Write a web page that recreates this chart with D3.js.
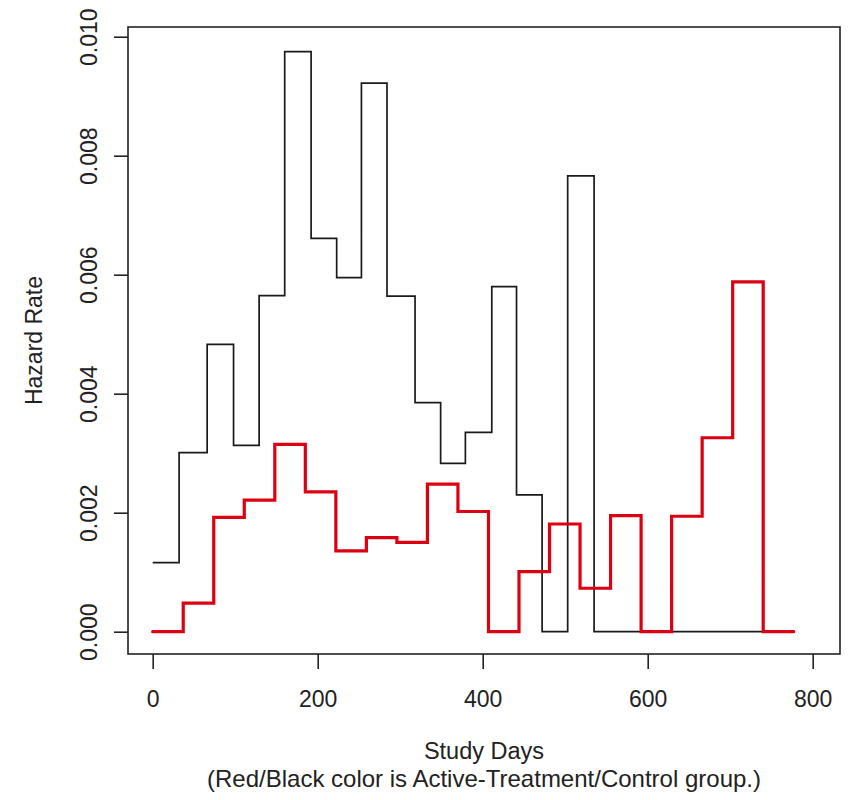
<!DOCTYPE html>
<html>
<head>
<meta charset="utf-8">
<script src="https://cdn.jsdelivr.net/npm/d3@7"></script>
<style>
    body { margin: 0; background: white; }
    text { font-family: 'Liberation Sans', Arial, sans-serif; fill: #222; }
</style>
</head>
<body>
<div id="chart"></div>
<script>
    // control group (black), bins about 31.5 days wide
    var controlEdges = [0, 32, 66, 98, 129, 160, 192, 223, 253, 284, 318, 349, 379, 411, 441, 472, 503, 535, 777];
    var controlRate = [0.00116, 0.00301, 0.00483, 0.00313, 0.00565, 0.00975, 0.00661, 0.00595, 0.00922,
        0.00564, 0.00385, 0.00283, 0.00335, 0.00580, 0.00230, 0.0, 0.00766, 0.0];

    // active treatment (red), 37 day bins
    var activeEdges = [0, 37, 74, 111, 148, 185, 222, 259, 296, 333, 370, 407, 444, 481, 518, 555, 592, 629, 666, 703, 740, 777];
    var activeRate = [0.0, 0.00048, 0.00192, 0.00221, 0.00315, 0.00235, 0.00136, 0.00158, 0.00150, 0.00248,
        0.00202, 0.0, 0.00101, 0.00181, 0.00073, 0.00195, 0.0, 0.00194, 0.00326, 0.00588, 0.0];

    var xTicks = [0, 200, 400, 600, 800];
    var yTicks = [0, 0.002, 0.004, 0.006, 0.008, 0.010];

    var width = 850, height = 800;
    var box = { left: 128, top: 27, right: 840, bottom: 654 };

    var svg = d3.select("#chart").append("svg")
        .attr("width", width)
        .attr("height", height);

    svg.append("rect").attr("width", width).attr("height", height).attr("fill", "white");

    var x = d3.scaleLinear().domain([0, 800]).range([152.7, 812.7]);
    var y = d3.scaleLinear().domain([0, 0.010]).range([631.7, 36.7]);

    function steps(edges, rates) {
        var pts = rates.map(function (r, i) { return [edges[i], r]; });
        pts.push([edges[edges.length - 1], rates[rates.length - 1]]);
        return pts;
    }

    var line = d3.line()
        .x(function (d) { return x(d[0]); })
        .y(function (d) { return y(d[1]); })
        .curve(d3.curveStepAfter);

    svg.append("path")
        .datum(steps(controlEdges, controlRate))
        .attr("d", line)
        .attr("fill", "none")
        .attr("stroke", "#1a1a1a")
        .attr("stroke-width", 1.7);

    svg.append("path")
        .datum(steps(activeEdges, activeRate))
        .attr("d", line)
        .attr("fill", "none")
        .attr("stroke", "#dd0010")
        .attr("stroke-width", 3.2)
        .attr("stroke-linecap", "round");

    // box
    svg.append("rect")
        .attr("x", box.left).attr("y", box.top)
        .attr("width", box.right - box.left).attr("height", box.bottom - box.top)
        .attr("fill", "none").attr("stroke", "#222").attr("stroke-width", 1.6);

    // x axis
    var xAxis = svg.append("g")
        .attr("transform", "translate(0," + box.bottom + ")")
        .call(d3.axisBottom(x).tickValues(xTicks).tickSize(15).tickSizeOuter(0).tickFormat(d3.format("d")));
    xAxis.select(".domain").remove();
    xAxis.selectAll("line").attr("stroke", "#222").attr("stroke-width", 1.6);
    xAxis.selectAll("text")
        .attr("y", 53).attr("dy", 0)
        .style("font-size", "23px");

    // y axis
    var yAxis = svg.append("g")
        .attr("transform", "translate(" + box.left + ",0)")
        .call(d3.axisLeft(y).tickValues(yTicks).tickSize(14).tickSizeOuter(0).tickFormat(d3.format(".3f")));
    yAxis.select(".domain").remove();
    yAxis.selectAll("line").attr("stroke", "#222").attr("stroke-width", 1.6);
    yAxis.selectAll("text")
        .attr("transform", "rotate(-90)")
        .attr("x", 0).attr("y", -31).attr("dy", 0)
        .style("text-anchor", "middle")
        .style("font-size", "23px");

    // labels
    svg.append("text")
        .attr("transform", "translate(42," + ((box.top + box.bottom) / 2) + ") rotate(-90)")
        .style("text-anchor", "middle")
        .style("font-size", "23px")
        .text("Hazard Rate");

    svg.append("text")
        .attr("x", (box.left + box.right) / 2).attr("y", 759)
        .style("text-anchor", "middle")
        .style("font-size", "23.5px")
        .text("Study Days");

    svg.append("text")
        .attr("x", (box.left + box.right) / 2).attr("y", 787)
        .style("text-anchor", "middle")
        .style("font-size", "24px")
        .text("(Red/Black color is Active-Treatment/Control group.)");
</script>
</body>
</html>
